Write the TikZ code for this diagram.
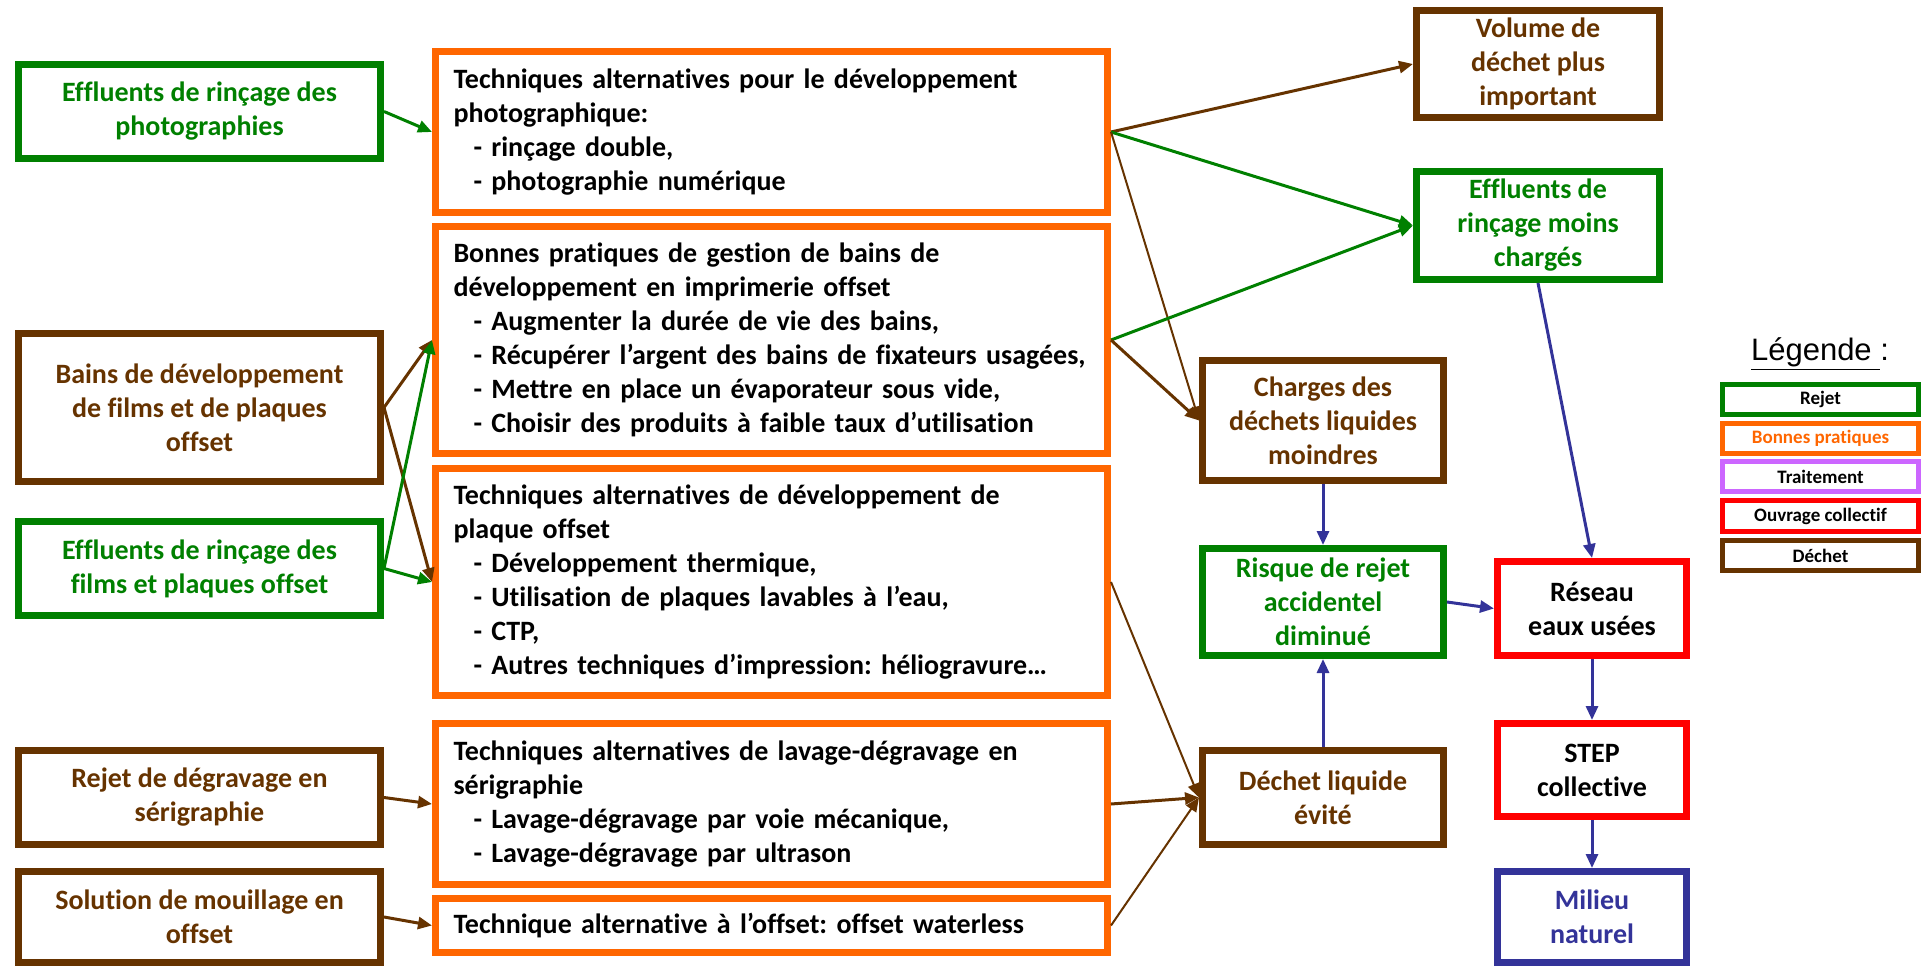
\documentclass[tikz,border=0pt]{standalone}
\usepackage{fontspec}
\setmainfont{Carlito}[Ligatures=NoCommon]
\newfontfamily\legfont{Liberation Sans}
\usetikzlibrary{arrows.meta}
\definecolor{cgreen}{RGB}{0,128,0}
\definecolor{cbrown}{RGB}{102,51,0}
\definecolor{corange}{RGB}{255,102,0}
\definecolor{cblue}{RGB}{51,51,153}
\definecolor{cred}{RGB}{255,0,0}
\definecolor{cpurple}{RGB}{204,102,255}
\newcommand{\itm}{\hspace*{10pt}- }
\begin{document}
\begin{tikzpicture}[x=0.5pt,y=-0.5pt,
  box/.style={draw, line width=3.5pt, inner sep=0pt, align=center,
    font=\fontsize{14pt}{17pt}\selectfont\bfseries\frenchspacing},
  gbox/.style={box, draw=cgreen, text=cgreen},
  bbox/.style={box, draw=cbrown, text=cbrown},
  obox/.style={box, draw=corange, text=black, align=left, text width=318pt},
  rbox/.style={box, draw=cred, text=black},
  lbox/.style={box, draw=cblue, text=cblue},
  leftcol/.style={minimum width=181pt},
  midcol/.style={minimum width=336pt},
  ccol/.style={minimum width=120.5pt},
  dcol/.style={minimum width=121.5pt},
  ecol/.style={minimum width=94.5pt},
  leg/.style={draw, line width=2.5pt, inner sep=0pt, minimum width=98pt, minimum height=15pt,
    font=\fontsize{9.5pt}{11pt}\selectfont\bfseries},
  arr/.style={line width=1.5pt, -{Triangle[length=7pt,width=6pt]}},
  thin/.style={line width=1pt, -{Triangle[length=7pt,width=6pt]}},
  ga/.style={arr, draw=cgreen, fill=cgreen},
  ba/.style={arr, draw=cbrown, fill=cbrown},
  bta/.style={thin, draw=cbrown, fill=cbrown},
  ua/.style={arr, draw=cblue, fill=cblue}
]
\useasboundingbox (0,0) rectangle (1926,967);

% left column
\node[gbox, leftcol, minimum height=47pt] (A1) at (199.5,111.5) {Effluents de rinçage des\\photographies};
\node[bbox, leftcol, minimum height=74pt] (A2) at (199.5,407.5) {Bains de développement\\de films et de plaques\\offset};
\node[gbox, leftcol, minimum height=47pt] (A3) at (199.5,568.5) {Effluents de rinçage des\\films et plaques offset};
\node[bbox, leftcol, minimum height=47pt] (A4) at (199.5,797.5) {Rejet de dégravage en\\sérigraphie};
\node[bbox, leftcol, minimum height=45.5pt] (A5) at (199.5,917) {Solution de mouillage en\\offset};

% middle column
\node[obox, midcol, minimum height=80.5pt] (B1) at (771.5,132) {Techniques alternatives pour le développement\\photographique:\\\itm rinçage double,\\\itm photographie numérique};
\node[obox, midcol, minimum height=113.5pt] (B2) at (771.5,340) {Bonnes pratiques de gestion de bains de\\développement en imprimerie offset\\\itm Augmenter la durée de vie des bains,\\\itm \mbox{Récupérer l’argent des bains de fixateurs usagées,}\\\itm Mettre en place un évaporateur sous vide,\\\itm Choisir des produits à faible taux d’utilisation};
\node[obox, midcol, minimum height=113.5pt] (B3) at (771.5,582) {Techniques alternatives de développement de\\plaque offset\\\itm Développement thermique,\\\itm Utilisation de plaques lavables à l’eau,\\\itm CTP,\\\itm Autres techniques d’impression: héliogravure…};
\node[obox, midcol, minimum height=80.5pt] (B4) at (771.5,804) {Techniques alternatives de lavage-dégravage en\\sérigraphie\\\itm Lavage-dégravage par voie mécanique,\\\itm Lavage-dégravage par ultrason};
\node[obox, midcol, minimum height=27pt] (B5) at (771.5,925.5) {Technique alternative à l’offset: offset waterless};

% effects column
\node[bbox, ccol, minimum height=60pt] (C1) at (1323,420.5) {Charges des\\déchets liquides\\moindres};
\node[gbox, ccol, minimum height=53.5pt] (C2) at (1323,602) {Risque de rejet\\accidentel\\diminué};
\node[bbox, ccol, minimum height=47pt] (C3) at (1323,797.5) {Déchet liquide\\évité};

% top right
\node[bbox, dcol, minimum height=53.5pt] (D1) at (1538,64) {Volume de\\déchet plus\\important};
\node[gbox, dcol, minimum height=54pt] (D2) at (1538,225.5) {Effluents de\\rinçage moins\\chargés};

% collective chain
\node[rbox, ecol, minimum height=47pt] (E1) at (1592,608.5) {Réseau\\eaux usées};
\node[rbox, ecol, minimum height=46.5pt] (E2) at (1592,770) {STEP\\collective};
\node[lbox, ecol, minimum height=45.5pt] (E3) at (1592,917) {Milieu\\naturel};

% legend
\node[font=\legfont\fontsize{15.5pt}{18pt}\selectfont] (LT) at (1820,354) {\underline{Légende\ }:};
\node[leg, draw=cgreen] (L1) at (1820.5,399.5) {Rejet};
\node[leg, draw=corange, text=corange] (L2) at (1820.5,438.5) {Bonnes pratiques};
\node[leg, draw=cpurple] (L3) at (1820.5,477) {Traitement};
\node[leg, draw=cred] (L4) at (1820.5,516) {Ouvrage collectif};
\node[leg, draw=cbrown] (L5) at (1820.5,555.5) {Déchet};

% arrows left -> middle
\draw[ga] (A1.east) -- (B1.west);
\draw[ba] (A2.east) -- (B2.west);
\draw[ba] (A2.east) -- (B3.west);
\draw[ga] (A3.east) -- (B2.west);
\draw[ga] (A3.east) -- (B3.west);
\draw[ba] (A4.east) -- (B4.west);
\draw[ba] (A5.east) -- (B5.west);

% arrows middle -> right
\draw[ba] (B1.east) -- (D1.west);
\draw[ga] (B1.east) -- (D2.west);
\draw[bta] (B1.east) -- (C1.west);
\draw[ga] (B2.east) -- (D2.west);
\draw[ba] (B2.east) -- (C1.west);
\draw[bta] (B3.east) -- (C3.west);
\draw[ba] (B4.east) -- (C3.west);
\draw[bta] (B5.east) -- (C3.west);

% blue arrows
\draw[ua] (C1.south) -- (C2.north);
\draw[ua] (C3.north) -- (C2.south);
\draw[ua] (C2.east) -- (E1.west);
\draw[ua] (D2.south) -- (E1.north);
\draw[ua] (E1.south) -- (E2.north);
\draw[ua] (E2.south) -- (E3.north);
\end{tikzpicture}
\end{document}
